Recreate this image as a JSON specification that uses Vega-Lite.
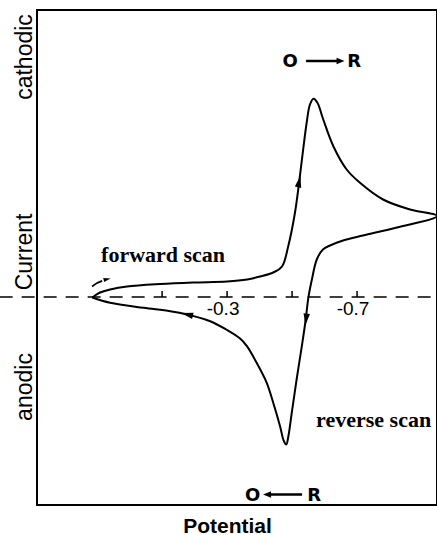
{
  "$schema": "https://vega.github.io/schema/vega-lite/v6.json",
  "width": 400,
  "height": 495,
  "autosize": {"type": "none"},
  "padding": {"left": 37, "top": 10, "right": 0, "bottom": 30},
  "background": "white",
  "config": {
    "view": {"stroke": "black", "strokeWidth": 2},
    "font": "Liberation Sans",
    "axis": {"grid": false, "ticks": false, "domain": false}
  },
  "datasets": {
    "curve": [
      {"i": 0, "P": 0.115, "C": -0.05},
      {"i": 1, "P": 0.091, "C": 0.45},
      {"i": 2, "P": 0.06, "C": 0.75},
      {"i": 3, "P": 0.008, "C": 1.05},
      {"i": 4, "P": -0.094, "C": 1.3},
      {"i": 5, "P": -0.195, "C": 1.45},
      {"i": 6, "P": -0.3, "C": 1.55},
      {"i": 7, "P": -0.362, "C": 1.75},
      {"i": 8, "P": -0.402, "C": 2.05},
      {"i": 9, "P": -0.442, "C": 2.45},
      {"i": 10, "P": -0.469, "C": 3.05},
      {"i": 11, "P": -0.488, "C": 5.05},
      {"i": 12, "P": -0.509, "C": 8.45},
      {"i": 13, "P": -0.522, "C": 11.55},
      {"i": 14, "P": -0.533, "C": 14.45},
      {"i": 15, "P": -0.545, "C": 17.45},
      {"i": 16, "P": -0.555, "C": 19.25},
      {"i": 17, "P": -0.566, "C": 19.82},
      {"i": 18, "P": -0.578, "C": 19.42},
      {"i": 19, "P": -0.596, "C": 17.75},
      {"i": 20, "P": -0.627, "C": 15.08},
      {"i": 21, "P": -0.668, "C": 12.75},
      {"i": 22, "P": -0.709, "C": 11.42},
      {"i": 23, "P": -0.78, "C": 9.75},
      {"i": 24, "P": -0.863, "C": 8.75},
      {"i": 25, "P": -0.946, "C": 8.1},
      {"i": 26, "P": -0.823, "C": 6.95},
      {"i": 27, "P": -0.718, "C": 6.15},
      {"i": 28, "P": -0.657, "C": 5.65},
      {"i": 29, "P": -0.617, "C": 5.15},
      {"i": 30, "P": -0.595, "C": 4.75},
      {"i": 31, "P": -0.576, "C": 3.75},
      {"i": 32, "P": -0.561, "C": 1.75},
      {"i": 33, "P": -0.55, "C": -0.08},
      {"i": 34, "P": -0.542, "C": -2.25},
      {"i": 35, "P": -0.53, "C": -4.92},
      {"i": 36, "P": -0.514, "C": -8.25},
      {"i": 37, "P": -0.499, "C": -11.58},
      {"i": 38, "P": -0.489, "C": -13.85},
      {"i": 39, "P": -0.482, "C": -14.75},
      {"i": 40, "P": -0.474, "C": -14.35},
      {"i": 41, "P": -0.463, "C": -12.92},
      {"i": 42, "P": -0.442, "C": -10.58},
      {"i": 43, "P": -0.422, "C": -8.58},
      {"i": 44, "P": -0.391, "C": -6.58},
      {"i": 45, "P": -0.361, "C": -4.92},
      {"i": 46, "P": -0.34, "C": -4.15},
      {"i": 47, "P": -0.297, "C": -3.25},
      {"i": 48, "P": -0.248, "C": -2.42},
      {"i": 49, "P": -0.177, "C": -1.75},
      {"i": 50, "P": -0.125, "C": -1.42},
      {"i": 51, "P": -0.043, "C": -1.08},
      {"i": 52, "P": 0.06, "C": -0.58},
      {"i": 53, "P": 0.115, "C": -0.05}
    ],
    "startArrow": [
      {"i": 0, "P": 0.1154, "C": 1.05},
      {"i": 1, "P": 0.1, "C": 1.4},
      {"i": 2, "P": 0.0846, "C": 1.62}
    ],
    "zeroLine": [
      {"P": 0.4, "P2": -0.946, "C": 0}
    ],
    "ticks": [
      {"P": -0.1, "C": 0}, {"P": -0.3, "C": 0}, {"P": -0.5, "C": 0}, {"P": -0.7, "C": 0}
    ],
    "tickLabels": [
      {"P": -0.3, "C": 0, "label": "-0.3"},
      {"P": -0.7, "C": 0, "label": "-0.7"}
    ],
    "scanLabels": [
      {"P": -0.103, "C": 3.55, "label": "forward scan"},
      {"P": -0.751, "C": -12.95, "label": "reverse scan"}
    ],
    "species": [
      {"P": -0.4938, "C": 23.48, "label": "O"},
      {"P": -0.6908, "C": 23.48, "label": "R"},
      {"P": -0.3785, "C": -19.87, "label": "O"},
      {"P": -0.5677, "C": -19.87, "label": "R"}
    ],
    "reactionArrows": [
      {"P": -0.5431, "P2": -0.6415, "C": 23.6},
      {"P": -0.4231, "P2": -0.5308, "C": -19.75}
    ]
  },
  "encoding": {
    "x": {
      "field": "P",
      "type": "quantitative",
      "scale": {"domain": [-0.946, 0.285], "reverse": true, "nice": false, "zero": false},
      "axis": {
        "title": "Potential",
        "labels": false,
        "ticks": false,
        "domain": false,
        "grid": false,
        "titleFont": "Liberation Sans",
        "titleFontSize": 21,
        "titleFontWeight": "bold",
        "titleColor": "black",
        "titlePadding": 10,
        "titleX": 190
      }
    },
    "y": {
      "field": "C",
      "type": "quantitative",
      "scale": {"domain": [-20.8, 28.7], "nice": false, "zero": false},
      "axis": {
        "title": null,
        "values": [24.05, 4.55, -8.95],
        "labelExpr": "datum.value > 20 ? 'cathodic' : (datum.value > 0 ? 'Current' : 'anodic')",
        "labelAngle": -90,
        "labelAlign": "center",
        "labelBaseline": "alphabetic",
        "labelPadding": 6,
        "labelFont": "Liberation Sans",
        "labelFontSize": 23,
        "labelColor": "black",
        "labelOverlap": false,
        "labelFlush": false,
        "ticks": false,
        "domain": false,
        "grid": false
      }
    }
  },
  "layer": [
    {
      "data": {"name": "zeroLine"},
      "mark": {"type": "rule", "strokeDash": [13, 9], "strokeWidth": 1.5, "color": "black"},
      "encoding": {"x2": {"field": "P2"}}
    },
    {
      "data": {"name": "ticks"},
      "mark": {"type": "tick", "orient": "vertical", "size": 6, "thickness": 1.5, "yOffset": -3, "color": "black", "opacity": 1}
    },
    {
      "data": {"name": "tickLabels"},
      "mark": {"type": "text", "fontSize": 19, "dx": -4, "dy": 18, "baseline": "alphabetic", "align": "center", "color": "black", "font": "Liberation Sans"},
      "encoding": {"text": {"field": "label"}}
    },
    {
      "data": {"name": "curve"},
      "mark": {"type": "line", "strokeWidth": 2, "color": "black", "interpolate": "catmull-rom"},
      "encoding": {"order": {"field": "i", "type": "quantitative"}}
    },
    {
      "data": {"name": "startArrow"},
      "mark": {"type": "line", "strokeWidth": 1.8, "color": "black", "interpolate": "catmull-rom"},
      "encoding": {"order": {"field": "i", "type": "quantitative"}}
    },
    {
      "data": {"values": [{"P": 0.0692, "C": 1.77}]},
      "mark": {"type": "point", "filled": true, "opacity": 1, "color": "black", "shape": "M0,-1L0.6,1L-0.6,1Z", "size": 50, "angle": 78}
    },
    {
      "data": {"values": [{"P": -0.522, "C": 11.55}]},
      "mark": {"type": "point", "filled": true, "opacity": 1, "color": "black", "shape": "M0,-1L0.55,1L-0.55,1Z", "size": 140, "angle": 12}
    },
    {
      "data": {"values": [{"P": -0.543, "C": -2.25}]},
      "mark": {"type": "point", "filled": true, "opacity": 1, "color": "black", "shape": "M0,-1L0.55,1L-0.55,1Z", "size": 140, "angle": 187}
    },
    {
      "data": {"values": [{"P": -0.177, "C": -1.75}]},
      "mark": {"type": "point", "filled": true, "opacity": 1, "color": "black", "shape": "M0,-1L0.55,1L-0.55,1Z", "size": 140, "angle": -76}
    },
    {
      "data": {"name": "reactionArrows"},
      "mark": {"type": "rule", "strokeWidth": 2.5, "color": "black"},
      "encoding": {"x2": {"field": "P2"}}
    },
    {
      "data": {"values": [{"P": -0.6492, "C": 23.6}]},
      "mark": {"type": "point", "filled": true, "opacity": 1, "color": "black", "shape": "M0,-1L0.8,1L-0.8,1Z", "size": 64, "angle": 90}
    },
    {
      "data": {"values": [{"P": -0.4231, "C": -19.75}]},
      "mark": {"type": "point", "filled": true, "opacity": 1, "color": "black", "shape": "M0,-1L0.8,1L-0.8,1Z", "size": 64, "angle": -90}
    },
    {
      "data": {"name": "scanLabels"},
      "mark": {"type": "text", "font": "Liberation Serif", "fontWeight": "bold", "fontSize": 22, "align": "center", "baseline": "alphabetic", "color": "black"},
      "encoding": {"text": {"field": "label"}}
    },
    {
      "data": {"name": "species"},
      "mark": {"type": "text", "font": "DejaVu Sans", "fontWeight": "bold", "fontSize": 18, "align": "center", "baseline": "middle", "color": "black"},
      "encoding": {"text": {"field": "label"}}
    }
  ]
}
